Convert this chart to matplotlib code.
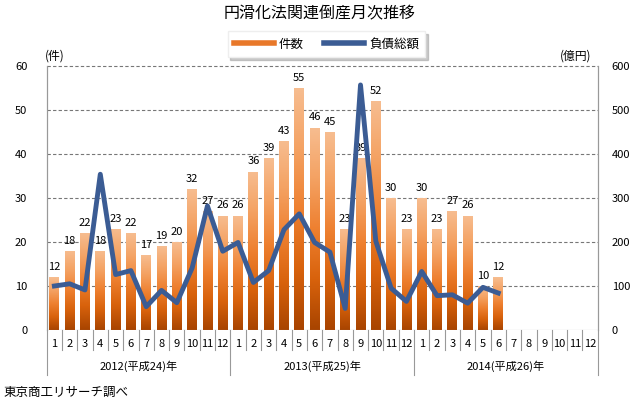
import matplotlib
matplotlib.use("Agg")
import matplotlib.pyplot as plt
import numpy as np
from matplotlib.lines import Line2D
from matplotlib.colors import LinearSegmentedColormap

plt.rcParams['font.family'] = ['Noto Sans CJK JP', 'DejaVu Sans']

title = "円滑化法関連倒産月次推移"
months = [str(m) for m in range(1, 13)] * 3
years = ["2012(平成24)年", "2013(平成25)年", "2014(平成26)年"]
counts = [12, 18, 22, 18, 23, 22, 17, 19, 20, 32, 27, 26,
          26, 36, 39, 43, 55, 46, 45, 23, 39, 52, 30, 23,
          30, 23, 27, 26, 10, 12]
debt = [100, 105, 91, 354, 126, 135, 53, 90, 62, 141, 282, 179,
        199, 108, 135, 228, 264, 199, 177, 49, 557, 202, 95, 65,
        133, 78, 80, 61, 97, 84]
legend_labels = ["件数", "負債総額"]

fig = plt.figure(figsize=(6.4, 4.0), dpi=100)
ax = fig.add_axes([0.073, 0.175, 0.861, 0.66])
ax2 = ax.twinx()

n = len(months)
x = np.arange(len(counts))

for v in range(10, 61, 10):
    ax.axhline(v, color='#777777', ls=(0, (3, 2)), lw=0.8, zorder=1, clip_on=False)

bars = ax.bar(x, counts, width=0.64, color='none', zorder=2)
grad = np.linspace(0, 1, 256).reshape(-1, 1)
cmap = LinearSegmentedColormap.from_list(
    'og', ['#A84400', '#D8620C', '#EE8030', '#F4A263', '#F7BD90'])
for b in bars:
    x0, w, h = b.get_x(), b.get_width(), b.get_height()
    im = ax.imshow(grad, extent=[x0, x0 + w, 0, h], origin='lower', cmap=cmap,
                   aspect='auto', zorder=2)
    im.set_clip_path(b)
ax.set_xlim(-0.5, n - 0.5)
ax.set_ylim(0, 60)

for xi, c in zip(x, counts):
    ax.text(xi, c + 1.2, str(c), ha='center', va='bottom', fontsize=8, zorder=5)

ax2.plot(x, debt, color='#3B5C94', lw=3.5, zorder=4)
ax2.set_ylim(0, 600)
ax2.set_xlim(-0.5, n - 0.5)

ax.set_yticks(range(0, 61, 10))
ax2.set_yticks(range(0, 601, 100))
ax.tick_params(axis='y', length=0, labelsize=8, pad=14)
ax2.tick_params(axis='y', length=0, labelsize=8, pad=10)
ax.set_xticks([])

for a in (ax, ax2):
    a.spines['top'].set_visible(False)
    a.spines['bottom'].set_visible(False)
    a.spines['left'].set_color('#999999')
    a.spines['right'].set_color('#999999')
ax.axhline(0, color='#999999', lw=0.8, zorder=3)

trans = ax.get_xaxis_transform()
for i, m in enumerate(months):
    ax.text(i, -0.035, m, transform=trans, ha='center', va='top', fontsize=8)
for i in range(n + 1):
    xs = i - 0.5
    low = -0.17 if i % 12 == 0 else -0.075
    ax.plot([xs, xs], [0, low], transform=trans, color='#999999', lw=0.8, clip_on=False)
for k, yl in enumerate(years):
    ax.text(12 * k + 5.5, -0.115, yl, transform=trans, ha='center', va='top', fontsize=8)

fig.text(0.5, 0.965, title, ha='center', va='center', fontsize=11.5)
fig.text(0.086, 0.86, "(件)", ha='center', va='center', fontsize=8.5)
fig.text(0.9, 0.86, "(億円)", ha='center', va='center', fontsize=8.5)
fig.text(0.005, 0.018, "東京商工リサーチ調べ", ha='left', va='center', fontsize=9)

handles = [Line2D([0], [0], color='#E8782A', lw=4),
           Line2D([0], [0], color='#3B5C94', lw=4)]
leg = fig.legend(handles, legend_labels, loc='center', bbox_to_anchor=(0.51, 0.89),
                 ncol=2, fontsize=9, frameon=True, fancybox=False,
                 shadow={'color': '#999999', 'alpha': 0.5},
                 edgecolor='#EEEEEE', handlelength=3.2, handletextpad=0.4,
                 columnspacing=1.6, borderpad=0.5)

fig.savefig("out.png", dpi=100)
